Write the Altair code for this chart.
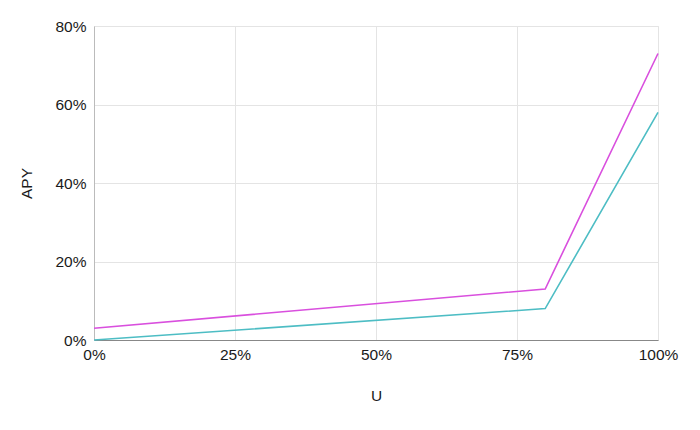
import altair as alt
import pandas as pd

u = [0.0, 0.8, 1.0]
apy_a = [0.03, 0.13, 0.73]
apy_b = [0.0, 0.08, 0.58]
series = ["A", "B"]
colors = ["#d94fde", "#4dbdc4"]

df = pd.DataFrame({
    "U": u + u,
    "APY": apy_a + apy_b,
    "series": [series[0]] * 3 + [series[1]] * 3,
})

chart = alt.Chart(df).mark_line(strokeWidth=1.6).encode(
    x=alt.X("U:Q", scale=alt.Scale(domain=[0, 1], nice=False),
            axis=alt.Axis(format=".0%", values=[0, 0.25, 0.5, 0.75, 1.0], title="U",
                          titlePadding=26, labelPadding=7, labelFlush=False)),
    y=alt.Y("APY:Q", scale=alt.Scale(domain=[0, 0.8], nice=False),
            axis=alt.Axis(format=".0%", values=[0, 0.2, 0.4, 0.6, 0.8], title="APY",
                          titlePadding=20, labelPadding=8, labelFlush=False)),
    color=alt.Color("series:N", scale=alt.Scale(domain=series, range=colors), legend=None),
).properties(
    width=564, height=314,
    autosize=alt.AutoSizeParams(type="none"),
    padding={"left": 86, "top": 18, "right": 34, "bottom": 82},
).configure_axis(
    labelFont="Liberation Sans", titleFont="Liberation Sans",
    labelFontSize=15.5, titleFontSize=15.5, labelColor="#1a1a1a", titleColor="#1a1a1a",
    titleFontWeight="normal", gridColor="#e4e4e4", ticks=False,
    domainColor="#bbbbbb",
).configure_axisX(domainColor="#888888").configure_view(stroke="#e4e4e4")

chart.save("out.html", embed_options={"renderer": "svg", "actions": False})
